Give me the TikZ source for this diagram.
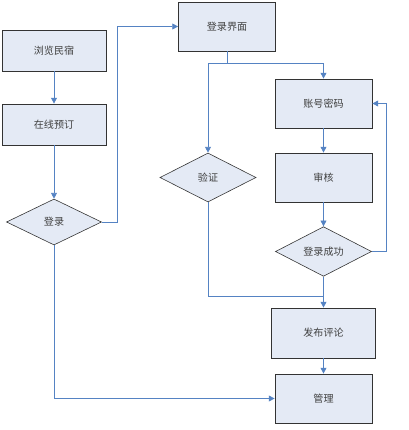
\documentclass[tikz,border=0pt]{standalone}
\usepackage{fontspec}
\newfontfamily\cjk{Noto Sans CJK SC}
\usepackage{tikz}
\usetikzlibrary{positioning,arrows.meta,shapes.geometric,calc}

\definecolor{boxfill}{HTML}{E4EAF5}
\definecolor{linkblue}{HTML}{5583C3}

\begin{document}
\begin{tikzpicture}[
    x=0.03cm, y=-0.03cm,
    font=\cjk\fontsize{8.6pt}{10pt}\selectfont,
    box/.style={draw=black!80, fill=boxfill, line width=0.6pt, text=black!75,
                minimum width=2.91cm, minimum height=1.47cm, align=center},
    decide/.style={diamond, draw=black!80, fill=boxfill, line width=0.5pt,
                   text=black!75, inner sep=0pt,
                   minimum width=2.88cm, minimum height=1.47cm},
    arr/.style={-{Triangle[length=5pt,width=5pt]}, linkblue, line width=0.7pt},
    lnk/.style={linkblue, line width=0.7pt}
  ]
    \useasboundingbox (0,0) rectangle (408,430);
    % left column
    \node[box, minimum width=3.12cm, minimum height=1.23cm] (browse) at (54,50.5) {浏览民宿};
    \node[box, minimum width=3.12cm, minimum height=1.23cm] (book)   at (54,124.5) {在线预订};
    \node[decide, minimum width=2.85cm, minimum height=1.38cm] (login) at (54,222) {登录};
    % login page and checks
    \node[box] (loginui) at (227,26.5)  {登录界面};
    \node[decide] (verify)  at (208,177.5) {验证};
    \node[box] (account) at (323.5,103.5) {账号密码};
    \node[box] (audit)   at (323.5,177.5) {审核};
    \node[decide] (success) at (323.5,251.5) {登录成功};
    % bottom
    \node[box, minimum width=3.12cm, minimum height=1.5cm] (publish) at (323.5,333) {发布评论};
    \node[box] (manage)  at (323.5,398.5) {管理};

    \draw[arr] (browse) -- (book);
    \draw[arr] (book)   -- (login);
    \draw[arr] (login.east) -- ++(16,0) |- (loginui.west);
    \draw[lnk] (loginui.south) -- ++(0,12) coordinate (split);
    \draw[arr] (split) -| (verify.north);
    \draw[arr] (split) -| (account.north);
    \draw[arr] (account) -- (audit);
    \draw[arr] (audit)   -- (success);
    \draw[arr] (success.east) -- ++(15,0) |- (account.east);
    \draw[lnk] (verify.south) |- ($(success.south)+(0,20)$) coordinate (merge);
    \draw[arr] (success.south) -- (publish.north);
    \draw[arr] (publish) -- (manage);
    \draw[arr] (login.south) |- (manage.west);
\end{tikzpicture}
\end{document}
